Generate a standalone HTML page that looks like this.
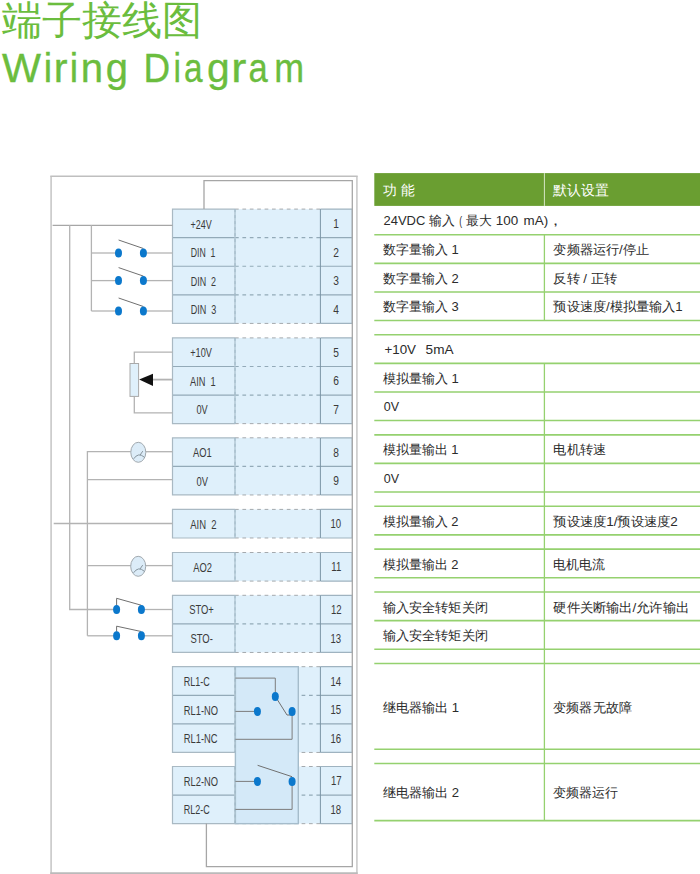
<!DOCTYPE html>
<html><head><meta charset="utf-8">
<style>
html,body{margin:0;padding:0;background:#fff;width:700px;height:874px;overflow:hidden}
svg{position:absolute;left:0;top:0;display:block}
text{font-family:"Liberation Sans",sans-serif}
.lab{fill:#3a3a3a}
.th{fill:#fff}
.td{fill:#2b2b2b}
.t1{fill:#6bbd3e}
.t1l{fill:#6bbd3e;stroke:#6bbd3e;stroke-width:0.35px}
</style></head><body>
<svg width="700" height="874" viewBox="0 0 700 874">
<line x1="51.1" y1="176.3" x2="51.1" y2="874" stroke="#cbcbcb" stroke-width="1.7"/>
<line x1="356.9" y1="176.3" x2="356.9" y2="874" stroke="#cdcdcd" stroke-width="1.7"/>
<line x1="50.3" y1="176.3" x2="357.7" y2="176.3" stroke="#bfbfbf" stroke-width="1.5"/>
<line x1="50.3" y1="873.3" x2="357.7" y2="873.3" stroke="#bababa" stroke-width="2"/>
<rect x="172.5" y="209.1" width="179.8" height="114.32" fill="#dff0fb"/>
<rect x="172.5" y="337.9" width="179.8" height="85.74" fill="#dff0fb"/>
<rect x="172.5" y="437.8" width="179.8" height="57.16" fill="#dff0fb"/>
<rect x="172.5" y="509.4" width="179.8" height="28.58" fill="#dff0fb"/>
<rect x="172.5" y="552.5" width="179.8" height="28.58" fill="#dff0fb"/>
<rect x="172.5" y="595.3" width="179.8" height="57.16" fill="#dff0fb"/>
<rect x="172.5" y="666.7" width="179.8" height="85.74" fill="#dff0fb"/>
<rect x="172.5" y="766.5" width="179.8" height="57.16" fill="#dff0fb"/>
<line x1="172.5" y1="237.68" x2="235.0" y2="237.68" stroke="#93aab8" stroke-width="1.2"/>
<line x1="235.0" y1="237.68" x2="320.4" y2="237.68" stroke="#93aab8" stroke-width="1.2" stroke-dasharray="3.7 3.7"/>
<line x1="320.4" y1="237.68" x2="352.3" y2="237.68" stroke="#93aab8" stroke-width="1.2"/>
<line x1="172.5" y1="266.26" x2="235.0" y2="266.26" stroke="#93aab8" stroke-width="1.2"/>
<line x1="235.0" y1="266.26" x2="320.4" y2="266.26" stroke="#93aab8" stroke-width="1.2" stroke-dasharray="3.7 3.7"/>
<line x1="320.4" y1="266.26" x2="352.3" y2="266.26" stroke="#93aab8" stroke-width="1.2"/>
<line x1="172.5" y1="294.84" x2="235.0" y2="294.84" stroke="#93aab8" stroke-width="1.2"/>
<line x1="235.0" y1="294.84" x2="320.4" y2="294.84" stroke="#93aab8" stroke-width="1.2" stroke-dasharray="3.7 3.7"/>
<line x1="320.4" y1="294.84" x2="352.3" y2="294.84" stroke="#93aab8" stroke-width="1.2"/>
<line x1="235.0" y1="209.1" x2="320.4" y2="209.1" stroke="#a4a9ad" stroke-width="1.0" stroke-dasharray="3.7 3.7"/>
<line x1="235.0" y1="323.42" x2="320.4" y2="323.42" stroke="#a4a9ad" stroke-width="1.0" stroke-dasharray="3.7 3.7"/>
<line x1="172.5" y1="366.48" x2="235.0" y2="366.48" stroke="#93aab8" stroke-width="1.2"/>
<line x1="235.0" y1="366.48" x2="320.4" y2="366.48" stroke="#93aab8" stroke-width="1.2" stroke-dasharray="3.7 3.7"/>
<line x1="320.4" y1="366.48" x2="352.3" y2="366.48" stroke="#93aab8" stroke-width="1.2"/>
<line x1="172.5" y1="395.06" x2="235.0" y2="395.06" stroke="#93aab8" stroke-width="1.2"/>
<line x1="235.0" y1="395.06" x2="320.4" y2="395.06" stroke="#93aab8" stroke-width="1.2" stroke-dasharray="3.7 3.7"/>
<line x1="320.4" y1="395.06" x2="352.3" y2="395.06" stroke="#93aab8" stroke-width="1.2"/>
<line x1="235.0" y1="337.9" x2="320.4" y2="337.9" stroke="#a4a9ad" stroke-width="1.0" stroke-dasharray="3.7 3.7"/>
<line x1="235.0" y1="423.64" x2="320.4" y2="423.64" stroke="#a4a9ad" stroke-width="1.0" stroke-dasharray="3.7 3.7"/>
<line x1="172.5" y1="466.38" x2="235.0" y2="466.38" stroke="#93aab8" stroke-width="1.2"/>
<line x1="235.0" y1="466.38" x2="320.4" y2="466.38" stroke="#93aab8" stroke-width="1.2" stroke-dasharray="3.7 3.7"/>
<line x1="320.4" y1="466.38" x2="352.3" y2="466.38" stroke="#93aab8" stroke-width="1.2"/>
<line x1="235.0" y1="437.8" x2="320.4" y2="437.8" stroke="#a4a9ad" stroke-width="1.0" stroke-dasharray="3.7 3.7"/>
<line x1="235.0" y1="494.96" x2="320.4" y2="494.96" stroke="#a4a9ad" stroke-width="1.0" stroke-dasharray="3.7 3.7"/>
<line x1="235.0" y1="509.4" x2="320.4" y2="509.4" stroke="#a4a9ad" stroke-width="1.0" stroke-dasharray="3.7 3.7"/>
<line x1="235.0" y1="537.98" x2="320.4" y2="537.98" stroke="#a4a9ad" stroke-width="1.0" stroke-dasharray="3.7 3.7"/>
<line x1="235.0" y1="552.5" x2="320.4" y2="552.5" stroke="#a4a9ad" stroke-width="1.0" stroke-dasharray="3.7 3.7"/>
<line x1="235.0" y1="581.08" x2="320.4" y2="581.08" stroke="#a4a9ad" stroke-width="1.0" stroke-dasharray="3.7 3.7"/>
<line x1="172.5" y1="623.88" x2="235.0" y2="623.88" stroke="#93aab8" stroke-width="1.2"/>
<line x1="235.0" y1="623.88" x2="320.4" y2="623.88" stroke="#93aab8" stroke-width="1.2" stroke-dasharray="3.7 3.7"/>
<line x1="320.4" y1="623.88" x2="352.3" y2="623.88" stroke="#93aab8" stroke-width="1.2"/>
<line x1="235.0" y1="595.3" x2="320.4" y2="595.3" stroke="#a4a9ad" stroke-width="1.0" stroke-dasharray="3.7 3.7"/>
<line x1="235.0" y1="652.46" x2="320.4" y2="652.46" stroke="#a4a9ad" stroke-width="1.0" stroke-dasharray="3.7 3.7"/>
<line x1="172.5" y1="695.28" x2="235.0" y2="695.28" stroke="#93aab8" stroke-width="1.2"/>
<line x1="235.0" y1="695.28" x2="320.4" y2="695.28" stroke="#93aab8" stroke-width="1.2" stroke-dasharray="3.7 3.7"/>
<line x1="320.4" y1="695.28" x2="352.3" y2="695.28" stroke="#93aab8" stroke-width="1.2"/>
<line x1="172.5" y1="723.86" x2="235.0" y2="723.86" stroke="#93aab8" stroke-width="1.2"/>
<line x1="235.0" y1="723.86" x2="320.4" y2="723.86" stroke="#93aab8" stroke-width="1.2" stroke-dasharray="3.7 3.7"/>
<line x1="320.4" y1="723.86" x2="352.3" y2="723.86" stroke="#93aab8" stroke-width="1.2"/>
<line x1="235.0" y1="666.7" x2="320.4" y2="666.7" stroke="#a4a9ad" stroke-width="1.0" stroke-dasharray="3.7 3.7"/>
<line x1="235.0" y1="752.44" x2="320.4" y2="752.44" stroke="#a4a9ad" stroke-width="1.0" stroke-dasharray="3.7 3.7"/>
<line x1="172.5" y1="795.08" x2="235.0" y2="795.08" stroke="#93aab8" stroke-width="1.2"/>
<line x1="235.0" y1="795.08" x2="320.4" y2="795.08" stroke="#93aab8" stroke-width="1.2" stroke-dasharray="3.7 3.7"/>
<line x1="320.4" y1="795.08" x2="352.3" y2="795.08" stroke="#93aab8" stroke-width="1.2"/>
<line x1="235.0" y1="766.5" x2="320.4" y2="766.5" stroke="#a4a9ad" stroke-width="1.0" stroke-dasharray="3.7 3.7"/>
<line x1="235.0" y1="823.66" x2="320.4" y2="823.66" stroke="#a4a9ad" stroke-width="1.0" stroke-dasharray="3.7 3.7"/>
<rect x="235.4" y="666.7" width="62.9" height="156.96" fill="#d4e9f8" stroke="#a5bccb" stroke-width="1.4"/>
<path d="M235.0 209.1 H172.5 V323.42 H235.0" fill="none" stroke="#a9b9c3" stroke-width="1.2"/>
<path d="M320.4 209.1 H352.3 V323.42 H320.4" fill="none" stroke="#9fb3c0" stroke-width="1.2"/>
<line x1="235.0" y1="209.1" x2="235.0" y2="323.42" stroke="#afc4d1" stroke-width="1.4"/>
<line x1="235.0" y1="209.1" x2="235.0" y2="323.42" stroke="#9bb2c1" stroke-width="0.8" stroke-dasharray="3 3"/>
<line x1="320.4" y1="209.1" x2="320.4" y2="323.42" stroke="#6f8b9c" stroke-width="0.9"/>
<path d="M235.0 337.9 H172.5 V423.64 H235.0" fill="none" stroke="#a9b9c3" stroke-width="1.2"/>
<path d="M320.4 337.9 H352.3 V423.64 H320.4" fill="none" stroke="#9fb3c0" stroke-width="1.2"/>
<line x1="235.0" y1="337.9" x2="235.0" y2="423.64" stroke="#afc4d1" stroke-width="1.4"/>
<line x1="235.0" y1="337.9" x2="235.0" y2="423.64" stroke="#9bb2c1" stroke-width="0.8" stroke-dasharray="3 3"/>
<line x1="320.4" y1="337.9" x2="320.4" y2="423.64" stroke="#6f8b9c" stroke-width="0.9"/>
<path d="M235.0 437.8 H172.5 V494.96 H235.0" fill="none" stroke="#a9b9c3" stroke-width="1.2"/>
<path d="M320.4 437.8 H352.3 V494.96 H320.4" fill="none" stroke="#9fb3c0" stroke-width="1.2"/>
<line x1="235.0" y1="437.8" x2="235.0" y2="494.96" stroke="#afc4d1" stroke-width="1.4"/>
<line x1="235.0" y1="437.8" x2="235.0" y2="494.96" stroke="#9bb2c1" stroke-width="0.8" stroke-dasharray="3 3"/>
<line x1="320.4" y1="437.8" x2="320.4" y2="494.96" stroke="#6f8b9c" stroke-width="0.9"/>
<path d="M235.0 509.4 H172.5 V537.98 H235.0" fill="none" stroke="#a9b9c3" stroke-width="1.2"/>
<path d="M320.4 509.4 H352.3 V537.98 H320.4" fill="none" stroke="#9fb3c0" stroke-width="1.2"/>
<line x1="235.0" y1="509.4" x2="235.0" y2="537.98" stroke="#afc4d1" stroke-width="1.4"/>
<line x1="235.0" y1="509.4" x2="235.0" y2="537.98" stroke="#9bb2c1" stroke-width="0.8" stroke-dasharray="3 3"/>
<line x1="320.4" y1="509.4" x2="320.4" y2="537.98" stroke="#6f8b9c" stroke-width="0.9"/>
<path d="M235.0 552.5 H172.5 V581.08 H235.0" fill="none" stroke="#a9b9c3" stroke-width="1.2"/>
<path d="M320.4 552.5 H352.3 V581.08 H320.4" fill="none" stroke="#9fb3c0" stroke-width="1.2"/>
<line x1="235.0" y1="552.5" x2="235.0" y2="581.08" stroke="#afc4d1" stroke-width="1.4"/>
<line x1="235.0" y1="552.5" x2="235.0" y2="581.08" stroke="#9bb2c1" stroke-width="0.8" stroke-dasharray="3 3"/>
<line x1="320.4" y1="552.5" x2="320.4" y2="581.08" stroke="#6f8b9c" stroke-width="0.9"/>
<path d="M235.0 595.3 H172.5 V652.46 H235.0" fill="none" stroke="#a9b9c3" stroke-width="1.2"/>
<path d="M320.4 595.3 H352.3 V652.46 H320.4" fill="none" stroke="#9fb3c0" stroke-width="1.2"/>
<line x1="235.0" y1="595.3" x2="235.0" y2="652.46" stroke="#afc4d1" stroke-width="1.4"/>
<line x1="235.0" y1="595.3" x2="235.0" y2="652.46" stroke="#9bb2c1" stroke-width="0.8" stroke-dasharray="3 3"/>
<line x1="320.4" y1="595.3" x2="320.4" y2="652.46" stroke="#6f8b9c" stroke-width="0.9"/>
<path d="M235.0 666.7 H172.5 V752.44 H235.0" fill="none" stroke="#a9b9c3" stroke-width="1.2"/>
<path d="M320.4 666.7 H352.3 V752.44 H320.4" fill="none" stroke="#9fb3c0" stroke-width="1.2"/>
<line x1="235.0" y1="666.7" x2="235.0" y2="752.44" stroke="#afc4d1" stroke-width="1.4"/>
<line x1="235.0" y1="666.7" x2="235.0" y2="752.44" stroke="#9bb2c1" stroke-width="0.8" stroke-dasharray="3 3"/>
<line x1="320.4" y1="666.7" x2="320.4" y2="752.44" stroke="#6f8b9c" stroke-width="0.9"/>
<path d="M235.0 766.5 H172.5 V823.66 H235.0" fill="none" stroke="#a9b9c3" stroke-width="1.2"/>
<path d="M320.4 766.5 H352.3 V823.66 H320.4" fill="none" stroke="#9fb3c0" stroke-width="1.2"/>
<line x1="235.0" y1="766.5" x2="235.0" y2="823.66" stroke="#afc4d1" stroke-width="1.4"/>
<line x1="235.0" y1="766.5" x2="235.0" y2="823.66" stroke="#9bb2c1" stroke-width="0.8" stroke-dasharray="3 3"/>
<line x1="320.4" y1="766.5" x2="320.4" y2="823.66" stroke="#6f8b9c" stroke-width="0.9"/>
<path d="M204 209.1 V180.7 H352.3 V866.6 H206.4 V823.4" fill="none" stroke="#a6a6a6" stroke-width="1.3"/>
<path d="M52.6 225.4 H172.5" fill="none" stroke="#a6a6a6" stroke-width="1.1"/>
<path d="M69.7 225.1 V609.5 H116.6" fill="none" stroke="#b3b3b3" stroke-width="1.3"/>
<path d="M91.4 225.1 V311" fill="none" stroke="#b3b3b3" stroke-width="1.3"/>
<path d="M91.4 253.0 H118.5" fill="none" stroke="#b3b3b3" stroke-width="1.3"/>
<path d="M143.4 253.0 H172.5" fill="none" stroke="#b3b3b3" stroke-width="1.3"/>
<path d="M118.6 240 L143.4 248.5" fill="none" stroke="#707070" stroke-width="1.0"/>
<path d="M91.4 280.6 H118.5" fill="none" stroke="#b3b3b3" stroke-width="1.3"/>
<path d="M143.4 280.6 H172.5" fill="none" stroke="#b3b3b3" stroke-width="1.3"/>
<path d="M118.6 267.6 L143.4 276.1" fill="none" stroke="#707070" stroke-width="1.0"/>
<path d="M91.4 311.0 H118.5" fill="none" stroke="#b3b3b3" stroke-width="1.3"/>
<path d="M143.4 311.0 H172.5" fill="none" stroke="#b3b3b3" stroke-width="1.3"/>
<path d="M118.6 298 L143.4 306.5" fill="none" stroke="#707070" stroke-width="1.0"/>
<path d="M172.5 352.2 H134.3 V363.5" fill="none" stroke="#b3b3b3" stroke-width="1.3"/>
<path d="M134.3 396.4 V412.9 H172.5" fill="none" stroke="#b3b3b3" stroke-width="1.3"/>
<rect x="130" y="363.5" width="8.6" height="32.9" fill="#dff0fb" stroke="#a9a9a9" stroke-width="1"/>
<path d="M139.1 379.6 L153 373.8 L153 385.9 Z" fill="#111"/>
<path d="M153 379.6 H172.5" fill="none" stroke="#b3b3b3" stroke-width="1.8"/>
<path d="M87.4 635.8 V451.7 H130.8" fill="none" stroke="#b3b3b3" stroke-width="1.3"/>
<path d="M145.8 451.7 H172.5" fill="none" stroke="#b3b3b3" stroke-width="1.3"/>
<path d="M87.4 479.6 H172.5" fill="none" stroke="#b3b3b3" stroke-width="1.3"/>
<ellipse cx="138.3" cy="452.3" rx="7.5" ry="10" fill="#dcecf8" stroke="#a0a8ae" stroke-width="1"/>
<path d="M133.7 458.8 Q138.3 451.8 144.5 457.3" fill="none" stroke="#7d8a93" stroke-width="0.9"/>
<path d="M140.1 455 L142.8 451.1" fill="none" stroke="#7d8a93" stroke-width="0.9"/>
<path d="M53.7 523.5 H172.5" fill="none" stroke="#b3b3b3" stroke-width="1.3"/>
<path d="M87.4 565.6 H130.8" fill="none" stroke="#b3b3b3" stroke-width="1.3"/>
<path d="M145.8 565.6 H172.5" fill="none" stroke="#b3b3b3" stroke-width="1.3"/>
<ellipse cx="138.2" cy="566.3" rx="7.5" ry="10" fill="#dcecf8" stroke="#a0a8ae" stroke-width="1"/>
<path d="M133.6 572.8 Q138.2 565.8 144.4 571.3" fill="none" stroke="#7d8a93" stroke-width="0.9"/>
<path d="M140 569 L142.7 565.1" fill="none" stroke="#7d8a93" stroke-width="0.9"/>
<path d="M141.4 609.5 H172.5" fill="none" stroke="#b3b3b3" stroke-width="1.3"/>
<path d="M116.6 605.5 V598.3 L141.2 605.2" fill="none" stroke="#707070" stroke-width="1.0"/>
<path d="M141.4 635.8 H172.5" fill="none" stroke="#b3b3b3" stroke-width="1.3"/>
<path d="M116.6 631.8 V626.2 L141.2 631.5" fill="none" stroke="#707070" stroke-width="1.0"/>
<path d="M87.4 635.8 H116.6" fill="none" stroke="#b3b3b3" stroke-width="1.3"/>
<path d="M235.4 678.1 H275.3 V692" fill="none" stroke="#7c7c7c" stroke-width="1.0"/>
<path d="M275.3 696.4 L287 715 H292.1" fill="none" stroke="#707070" stroke-width="1.0"/>
<path d="M235.4 711.4 H257.4" fill="none" stroke="#7c7c7c" stroke-width="1.0"/>
<path d="M292.1 711.4 V739.3 H235.4" fill="none" stroke="#7c7c7c" stroke-width="1.0"/>
<path d="M235.4 781.4 H257.4" fill="none" stroke="#7c7c7c" stroke-width="1.0"/>
<path d="M257.6 765.3 L292.1 776.7" fill="none" stroke="#707070" stroke-width="1.0"/>
<path d="M292.1 781.4 V809.4 H235.4" fill="none" stroke="#7c7c7c" stroke-width="1.0"/>
<ellipse cx="118.5" cy="253" rx="3.5" ry="4.5" fill="#0b78cc"/>
<ellipse cx="143.4" cy="253" rx="3.5" ry="4.5" fill="#0b78cc"/>
<ellipse cx="118.5" cy="280.6" rx="3.5" ry="4.5" fill="#0b78cc"/>
<ellipse cx="143.4" cy="280.6" rx="3.5" ry="4.5" fill="#0b78cc"/>
<ellipse cx="118.5" cy="311" rx="3.5" ry="4.5" fill="#0b78cc"/>
<ellipse cx="143.4" cy="311" rx="3.5" ry="4.5" fill="#0b78cc"/>
<ellipse cx="116.6" cy="609.5" rx="3.5" ry="4.5" fill="#0b78cc"/>
<ellipse cx="141.4" cy="609.5" rx="3.5" ry="4.5" fill="#0b78cc"/>
<ellipse cx="116.6" cy="635.8" rx="3.5" ry="4.5" fill="#0b78cc"/>
<ellipse cx="141.4" cy="635.8" rx="3.5" ry="4.5" fill="#0b78cc"/>
<ellipse cx="275.3" cy="696.4" rx="3.5" ry="4.5" fill="#0b78cc"/>
<ellipse cx="257.4" cy="711.4" rx="3.5" ry="4.5" fill="#0b78cc"/>
<ellipse cx="292.1" cy="711.4" rx="3.5" ry="4.5" fill="#0b78cc"/>
<ellipse cx="257.4" cy="781.4" rx="3.5" ry="4.5" fill="#0b78cc"/>
<ellipse cx="292.1" cy="781.4" rx="3.5" ry="4.5" fill="#0b78cc"/>
<rect x="374.3" y="173.1" width="325.7" height="32.8" fill="#6a9e31"/>
<line x1="544.4" y1="173.1" x2="544.4" y2="205.9" stroke="#d6e6c6" stroke-width="1"/>
<line x1="544.4" y1="234.78" x2="544.4" y2="263.36" stroke="#95d16f" stroke-width="1.3"/>
<line x1="544.4" y1="263.36" x2="544.4" y2="291.94" stroke="#95d16f" stroke-width="1.3"/>
<line x1="544.4" y1="291.94" x2="544.4" y2="320.52" stroke="#95d16f" stroke-width="1.3"/>
<line x1="544.4" y1="363.39" x2="544.4" y2="391.97" stroke="#95d16f" stroke-width="1.3"/>
<line x1="544.4" y1="391.97" x2="544.4" y2="420.55" stroke="#95d16f" stroke-width="1.3"/>
<line x1="544.4" y1="420.55" x2="544.4" y2="434.84" stroke="#95d16f" stroke-width="1.3"/>
<line x1="544.4" y1="434.84" x2="544.4" y2="463.42" stroke="#95d16f" stroke-width="1.3"/>
<line x1="544.4" y1="463.42" x2="544.4" y2="492" stroke="#95d16f" stroke-width="1.3"/>
<line x1="544.4" y1="492" x2="544.4" y2="506.29" stroke="#95d16f" stroke-width="1.3"/>
<line x1="544.4" y1="506.29" x2="544.4" y2="534.87" stroke="#95d16f" stroke-width="1.3"/>
<line x1="544.4" y1="534.87" x2="544.4" y2="549.16" stroke="#95d16f" stroke-width="1.3"/>
<line x1="544.4" y1="549.16" x2="544.4" y2="577.74" stroke="#95d16f" stroke-width="1.3"/>
<line x1="544.4" y1="577.74" x2="544.4" y2="592.03" stroke="#95d16f" stroke-width="1.3"/>
<line x1="544.4" y1="592.03" x2="544.4" y2="620.61" stroke="#95d16f" stroke-width="1.3"/>
<line x1="544.4" y1="620.61" x2="544.4" y2="649.19" stroke="#95d16f" stroke-width="1.3"/>
<line x1="544.4" y1="649.19" x2="544.4" y2="663.48" stroke="#95d16f" stroke-width="1.3"/>
<line x1="544.4" y1="663.48" x2="544.4" y2="749.22" stroke="#95d16f" stroke-width="1.3"/>
<line x1="544.4" y1="749.22" x2="544.4" y2="763.51" stroke="#95d16f" stroke-width="1.3"/>
<line x1="544.4" y1="763.51" x2="544.4" y2="820.67" stroke="#95d16f" stroke-width="1.3"/>
<line x1="374.3" y1="234.78" x2="700" y2="234.78" stroke="#95d16f" stroke-width="1.6"/>
<line x1="374.3" y1="263.36" x2="700" y2="263.36" stroke="#95d16f" stroke-width="1.6"/>
<line x1="374.3" y1="291.94" x2="700" y2="291.94" stroke="#95d16f" stroke-width="1.6"/>
<line x1="374.3" y1="320.52" x2="700" y2="320.52" stroke="#95d16f" stroke-width="1.6"/>
<line x1="374.3" y1="334.81" x2="700" y2="334.81" stroke="#95d16f" stroke-width="1.6"/>
<line x1="374.3" y1="363.39" x2="700" y2="363.39" stroke="#95d16f" stroke-width="1.6"/>
<line x1="374.3" y1="391.97" x2="700" y2="391.97" stroke="#95d16f" stroke-width="1.6"/>
<line x1="374.3" y1="420.55" x2="700" y2="420.55" stroke="#95d16f" stroke-width="1.6"/>
<line x1="374.3" y1="434.84" x2="700" y2="434.84" stroke="#95d16f" stroke-width="1.6"/>
<line x1="374.3" y1="463.42" x2="700" y2="463.42" stroke="#95d16f" stroke-width="1.6"/>
<line x1="374.3" y1="492" x2="700" y2="492" stroke="#95d16f" stroke-width="1.6"/>
<line x1="374.3" y1="506.29" x2="700" y2="506.29" stroke="#95d16f" stroke-width="1.6"/>
<line x1="374.3" y1="534.87" x2="700" y2="534.87" stroke="#95d16f" stroke-width="1.6"/>
<line x1="374.3" y1="549.16" x2="700" y2="549.16" stroke="#95d16f" stroke-width="1.6"/>
<line x1="374.3" y1="577.74" x2="700" y2="577.74" stroke="#95d16f" stroke-width="1.6"/>
<line x1="374.3" y1="592.03" x2="700" y2="592.03" stroke="#95d16f" stroke-width="1.6"/>
<line x1="374.3" y1="620.61" x2="700" y2="620.61" stroke="#95d16f" stroke-width="1.6"/>
<line x1="374.3" y1="649.19" x2="700" y2="649.19" stroke="#95d16f" stroke-width="1.6"/>
<line x1="374.3" y1="663.48" x2="700" y2="663.48" stroke="#95d16f" stroke-width="1.6"/>
<line x1="374.3" y1="749.22" x2="700" y2="749.22" stroke="#95d16f" stroke-width="1.6"/>
<line x1="374.3" y1="763.51" x2="700" y2="763.51" stroke="#95d16f" stroke-width="1.6"/>
<line x1="374.3" y1="820.67" x2="700" y2="820.67" stroke="#95d16f" stroke-width="1.6"/>
<text transform="matrix(0.7483 0 0 1 190.50 228.50)" class="lab" font-size="12" xml:space="preserve">+24V</text>
<text transform="matrix(0.7265 0 0 1 190.80 257.15)" class="lab" font-size="12" xml:space="preserve">DIN  1</text>
<text transform="matrix(0.7471 0 0 1 190.70 285.60)" class="lab" font-size="12" xml:space="preserve">DIN  2</text>
<text transform="matrix(0.7559 0 0 1 190.70 314.20)" class="lab" font-size="12" xml:space="preserve">DIN  3</text>
<text transform="matrix(0.7655 0 0 1 190.20 357.15)" class="lab" font-size="12" xml:space="preserve">+10V</text>
<text transform="matrix(0.7727 0 0 1 190.00 385.75)" class="lab" font-size="12" xml:space="preserve">AIN  1</text>
<text transform="matrix(0.7667 0 0 1 196.40 414.15)" class="lab" font-size="12" xml:space="preserve">0V</text>
<text transform="matrix(0.7792 0 0 1 193.10 457.40)" class="lab" font-size="12" xml:space="preserve">AO1</text>
<text transform="matrix(0.7800 0 0 1 196.60 485.70)" class="lab" font-size="12" xml:space="preserve">0V</text>
<text transform="matrix(0.7939 0 0 1 190.20 528.60)" class="lab" font-size="12" xml:space="preserve">AIN  2</text>
<text transform="matrix(0.7792 0 0 1 193.30 571.80)" class="lab" font-size="12" xml:space="preserve">AO2</text>
<text transform="matrix(0.7839 0 0 1 189.20 614.30)" class="lab" font-size="12" xml:space="preserve">STO+</text>
<text transform="matrix(0.7893 0 0 1 190.40 643.20)" class="lab" font-size="12" xml:space="preserve">STO-</text>
<text transform="matrix(0.7514 0 0 1 183.80 686.40)" class="lab" font-size="12" xml:space="preserve">RL1-C</text>
<text transform="matrix(0.7773 0 0 1 183.80 714.80)" class="lab" font-size="12" xml:space="preserve">RL1-NO</text>
<text transform="matrix(0.7814 0 0 1 183.80 743.10)" class="lab" font-size="12" xml:space="preserve">RL1-NC</text>
<text transform="matrix(0.7773 0 0 1 183.80 785.70)" class="lab" font-size="12" xml:space="preserve">RL2-NO</text>
<text transform="matrix(0.7514 0 0 1 183.80 814.40)" class="lab" font-size="12" xml:space="preserve">RL2-C</text>
<text transform="matrix(0.8500 0 0 1 333.22 227.99)" class="lab" font-size="12" xml:space="preserve">1</text>
<text transform="matrix(0.8500 0 0 1 333.22 256.57)" class="lab" font-size="12" xml:space="preserve">2</text>
<text transform="matrix(0.8500 0 0 1 333.22 285.15)" class="lab" font-size="12" xml:space="preserve">3</text>
<text transform="matrix(0.8500 0 0 1 333.22 313.73)" class="lab" font-size="12" xml:space="preserve">4</text>
<text transform="matrix(0.8500 0 0 1 333.22 356.79)" class="lab" font-size="12" xml:space="preserve">5</text>
<text transform="matrix(0.8500 0 0 1 333.22 385.37)" class="lab" font-size="12" xml:space="preserve">6</text>
<text transform="matrix(0.8500 0 0 1 333.22 413.95)" class="lab" font-size="12" xml:space="preserve">7</text>
<text transform="matrix(0.8500 0 0 1 333.22 456.69)" class="lab" font-size="12" xml:space="preserve">8</text>
<text transform="matrix(0.8500 0 0 1 333.22 485.27)" class="lab" font-size="12" xml:space="preserve">9</text>
<text transform="matrix(0.8000 0 0 1 330.50 528.29)" class="lab" font-size="12" xml:space="preserve">10</text>
<text transform="matrix(0.8000 0 0 1 331.30 571.39)" class="lab" font-size="12" xml:space="preserve">11</text>
<text transform="matrix(0.8000 0 0 1 330.90 614.19)" class="lab" font-size="12" xml:space="preserve">12</text>
<text transform="matrix(0.8000 0 0 1 330.50 642.77)" class="lab" font-size="12" xml:space="preserve">13</text>
<text transform="matrix(0.8000 0 0 1 330.50 685.59)" class="lab" font-size="12" xml:space="preserve">14</text>
<text transform="matrix(0.8000 0 0 1 330.50 714.17)" class="lab" font-size="12" xml:space="preserve">15</text>
<text transform="matrix(0.8000 0 0 1 330.50 742.75)" class="lab" font-size="12" xml:space="preserve">16</text>
<text transform="matrix(0.8000 0 0 1 330.90 785.39)" class="lab" font-size="12" xml:space="preserve">17</text>
<text transform="matrix(0.8000 0 0 1 330.50 813.97)" class="lab" font-size="12" xml:space="preserve">18</text>
<text transform="matrix(0.9844 0 0 1 382.90 194.70)" class="th" font-size="14" xml:space="preserve">功 能</text>
<text transform="matrix(0.9929 0 0 1 553.10 194.70)" class="th" font-size="14" xml:space="preserve">默认设置</text>
<text transform="matrix(0.9976 0 0 1 383.50 225.19)" class="td" font-size="13" xml:space="preserve">24VDC</text>
<text transform="matrix(0.9885 0 0 1 429.30 225.19)" class="td" font-size="13" xml:space="preserve">输入</text>
<text transform="matrix(0.6600 0 0 1 459.30 225.19)" class="td" font-size="13" xml:space="preserve">(</text>
<text transform="matrix(0.9885 0 0 1 466.40 225.19)" class="td" font-size="13" xml:space="preserve">最大</text>
<text transform="matrix(1.0333 0 0 1 495.87 225.19)" class="td" font-size="13" xml:space="preserve">100</text>
<text transform="matrix(1.0292 0 0 1 523.60 225.19)" class="td" font-size="13" xml:space="preserve">mA)</text>
<text transform="matrix(1.4000 0 0 1 552.90 225.19)" class="td" font-size="13" xml:space="preserve">,</text>
<text transform="matrix(0.9987 0 0 1 382.90 254.27)" class="td" font-size="13" xml:space="preserve">数字量输入 1</text>
<text transform="matrix(1.0189 0 0 1 553.40 254.27)" class="td" font-size="13" xml:space="preserve">变频器运行/停止</text>
<text transform="matrix(0.9987 0 0 1 382.90 282.85)" class="td" font-size="13" xml:space="preserve">数字量输入 2</text>
<text transform="matrix(1.0190 0 0 1 553.40 282.85)" class="td" font-size="13" xml:space="preserve">反转 / 正转</text>
<text transform="matrix(0.9987 0 0 1 382.90 311.43)" class="td" font-size="13" xml:space="preserve">数字量输入 3</text>
<text transform="matrix(1.0211 0 0 1 553.40 311.43)" class="td" font-size="13" xml:space="preserve">预设速度/模拟量输入1</text>
<text transform="matrix(1.0290 0 0 1 384.40 354.30)" class="td" font-size="13" xml:space="preserve">+10V</text>
<text transform="matrix(1.0444 0 0 1 425.60 354.30)" class="td" font-size="13" xml:space="preserve">5mA</text>
<text transform="matrix(1.0013 0 0 1 382.90 382.88)" class="td" font-size="13" xml:space="preserve">模拟量输入 1</text>
<text transform="matrix(0.9625 0 0 1 383.80 411.46)" class="td" font-size="13" xml:space="preserve">0V</text>
<text transform="matrix(0.9961 0 0 1 382.90 454.33)" class="td" font-size="13" xml:space="preserve">模拟量输出 1</text>
<text transform="matrix(1.0176 0 0 1 553.40 454.33)" class="td" font-size="13" xml:space="preserve">电机转速</text>
<text transform="matrix(0.9625 0 0 1 383.80 482.91)" class="td" font-size="13" xml:space="preserve">0V</text>
<text transform="matrix(0.9961 0 0 1 382.90 525.78)" class="td" font-size="13" xml:space="preserve">模拟量输入 2</text>
<text transform="matrix(1.0344 0 0 1 553.40 525.78)" class="td" font-size="13" xml:space="preserve">预设速度1/预设速度2</text>
<text transform="matrix(0.9961 0 0 1 382.90 568.65)" class="td" font-size="13" xml:space="preserve">模拟量输出 2</text>
<text transform="matrix(0.9981 0 0 1 553.40 568.65)" class="td" font-size="13" xml:space="preserve">电机电流</text>
<text transform="matrix(1.0173 0 0 1 382.90 611.52)" class="td" font-size="13" xml:space="preserve">输入安全转矩关闭</text>
<text transform="matrix(1.0293 0 0 1 553.40 611.52)" class="td" font-size="13" xml:space="preserve">硬件关断输出/允许输出</text>
<text transform="matrix(1.0173 0 0 1 382.90 640.10)" class="td" font-size="13" xml:space="preserve">输入安全转矩关闭</text>
<text transform="matrix(1.0092 0 0 1 382.90 711.55)" class="td" font-size="13" xml:space="preserve">继电器输出 1</text>
<text transform="matrix(1.0077 0 0 1 553.40 711.55)" class="td" font-size="13" xml:space="preserve">变频器无故障</text>
<text transform="matrix(1.0092 0 0 1 382.90 797.29)" class="td" font-size="13" xml:space="preserve">继电器输出 2</text>
<text transform="matrix(1.0000 0 0 1 553.40 797.29)" class="td" font-size="13" xml:space="preserve">变频器运行</text>
<text transform="matrix(1.0010 0 0 1 1.90 33.90)" class="t1" font-size="40" xml:space="preserve">端子接线图</text>
<text transform="matrix(1.0077 0 0 1 1.90 82.30)" class="t1l" font-size="41" xml:space="preserve">W</text>
<text transform="matrix(0.9200 0 0 1 43.66 82.30)" class="t1l" font-size="41" xml:space="preserve">i</text>
<text transform="matrix(1.0083 0 0 1 53.68 82.30)" class="t1l" font-size="41" xml:space="preserve">r</text>
<text transform="matrix(0.9200 0 0 1 69.66 82.30)" class="t1l" font-size="41" xml:space="preserve">i</text>
<text transform="matrix(0.9789 0 0 1 80.64 82.30)" class="t1l" font-size="41" xml:space="preserve">n</text>
<text transform="matrix(0.9750 0 0 1 105.83 82.30)" class="t1l" font-size="41" xml:space="preserve">g</text>
<text transform="matrix(0.9000 0 0 1 143.50 82.30)" class="t1l" font-size="41" xml:space="preserve">D</text>
<text transform="matrix(0.8200 0 0 1 173.56 82.30)" class="t1l" font-size="41" xml:space="preserve">i</text>
<text transform="matrix(0.8130 0 0 1 184.09 82.30)" class="t1l" font-size="41" xml:space="preserve">a</text>
<text transform="matrix(0.9950 0 0 1 207.00 82.30)" class="t1l" font-size="41" xml:space="preserve">g</text>
<text transform="matrix(1.1083 0 0 1 231.28 82.30)" class="t1l" font-size="41" xml:space="preserve">r</text>
<text transform="matrix(0.8435 0 0 1 248.46 82.30)" class="t1l" font-size="41" xml:space="preserve">a</text>
<text transform="matrix(0.8733 0 0 1 274.25 82.30)" class="t1l" font-size="41" xml:space="preserve">m</text>
</svg>
</body></html>
